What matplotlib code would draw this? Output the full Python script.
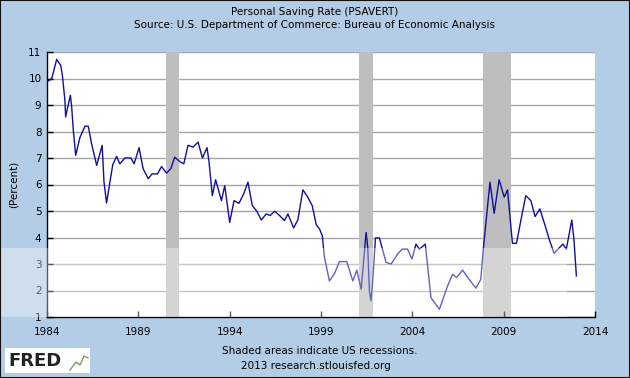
import numpy as np
import matplotlib
matplotlib.use('Agg')
import matplotlib.pyplot as plt
from matplotlib.patches import Rectangle

# personal saving rate (decimal year, percent)
dates = [1984.00, 1984.26, 1984.53, 1984.75, 1984.84, 1984.98, 1985.02, 1985.16, 1985.28, 1985.35,
         1985.44, 1985.57, 1985.80, 1986.08, 1986.26, 1986.44, 1986.72, 1987.02, 1987.12, 1987.26,
         1987.40, 1987.60, 1987.81, 1987.99, 1988.26, 1988.59, 1988.77, 1989.04, 1989.26, 1989.54,
         1989.75, 1990.05, 1990.27, 1990.54, 1990.78, 1990.99, 1991.30, 1991.49, 1991.72, 1992.00,
         1992.27, 1992.51, 1992.76, 1992.87, 1993.05, 1993.23, 1993.55, 1993.73, 1994.00, 1994.24,
         1994.51, 1994.77, 1995.00, 1995.24, 1995.49, 1995.73, 1996.00, 1996.22, 1996.46, 1996.73,
         1997.00, 1997.19, 1997.50, 1997.73, 1998.01, 1998.28, 1998.52, 1998.74, 1998.92, 1999.07,
         1999.19, 1999.46, 1999.74, 2000.01, 2000.41, 2000.74, 2000.96, 2001.20, 2001.47, 2001.56,
         2001.65, 2001.74, 2001.83, 2001.98, 2002.20, 2002.56, 2002.84, 2003.20, 2003.44, 2003.74,
         2003.98, 2004.20, 2004.38, 2004.71, 2005.02, 2005.48, 2005.93, 2006.20, 2006.42, 2006.75,
         2007.00, 2007.48, 2007.75, 2007.88, 2008.25, 2008.48, 2008.75, 2009.03, 2009.21, 2009.48,
         2009.70, 2009.94, 2010.21, 2010.49, 2010.72, 2010.98, 2011.27, 2011.49, 2011.76, 2012.03,
         2012.25, 2012.43, 2012.73, 2012.85, 2012.98]
rate = [9.87, 10.0, 10.72, 10.5, 10.13, 9.18, 8.55, 9.0, 9.37, 8.93,
        8.05, 7.1, 7.77, 8.2, 8.2, 7.54, 6.72, 7.48, 6.1, 5.3,
        5.9, 6.75, 7.06, 6.78, 7.0, 7.0, 6.78, 7.39, 6.6, 6.22,
        6.4, 6.4, 6.68, 6.43, 6.6, 7.03, 6.85, 6.78, 7.48, 7.41,
        7.6, 7.0, 7.39, 6.85, 5.58, 6.18, 5.39, 5.96, 4.57, 5.39,
        5.29, 5.65, 6.09, 5.2, 4.99, 4.66, 4.89, 4.83, 4.99, 4.83,
        4.64, 4.89, 4.36, 4.66, 5.8, 5.52, 5.2, 4.48, 4.32, 4.07,
        3.25, 2.36, 2.64, 3.09, 3.09, 2.36, 2.77, 2.05, 4.19, 3.62,
        1.98, 1.61, 2.36, 3.98, 3.98, 3.06, 3.0, 3.38, 3.56, 3.56,
        3.19, 3.75, 3.56, 3.75, 1.73, 1.29, 2.17, 2.61, 2.49, 2.77,
        2.52, 2.09, 2.43, 3.53, 6.09, 4.91, 6.18, 5.52, 5.8, 3.78,
        3.78, 4.64, 5.58, 5.39, 4.79, 5.08, 4.45, 3.94, 3.4, 3.6,
        3.75, 3.56, 4.66, 3.91, 2.55]

rec_start = [1990.5, 2001.1, 2007.88]
rec_end = [1991.2, 2001.85, 2009.42]

xticks = [1984, 1989, 1994, 1999, 2004, 2009, 2014]
yticks = list(range(1, 12))

bg = '#b4cde6'
fig = plt.figure(figsize=(6.3, 3.78), dpi=100, facecolor=bg)
ax = fig.add_axes([47/630, 1-317/378, 548/630, 265/378])
ax.set_facecolor('white')

for s, e in zip(rec_start, rec_end):
    ax.axvspan(s, e, color='#bebebe', lw=0, zorder=1)

for y in yticks:
    ax.axhline(y, color='#a6a6a6', lw=1, zorder=0.5)

ax.plot(dates, rate, color='#10109a', lw=1, zorder=3)

ax.set_xlim(1984, 2014)
ax.set_ylim(1, 11)
ax.set_xticks(xticks)
ax.set_yticks(yticks)
ax.tick_params(axis='both', direction='in', length=4, width=1, labelsize=7.5, colors='black')
ax.tick_params(axis='x', pad=7)
ax.tick_params(axis='y', pad=4)
for sp in ['top', 'right']:
    ax.spines[sp].set_visible(False)
for sp in ['left', 'bottom']:
    ax.spines[sp].set_color('black')
    ax.spines[sp].set_linewidth(1)
ax.set_ylabel('(Percent)', fontsize=7.5, labelpad=7)

fig.text(0.5, 1-12/378, 'Personal Saving Rate (PSAVERT)', ha='center', va='center', fontsize=7.5)
fig.text(0.5, 1-25/378, 'Source: U.S. Department of Commerce: Bureau of Economic Analysis',
         ha='center', va='center', fontsize=7.5)
fig.text(320/630, 1-351/378, 'Shaded areas indicate US recessions.', ha='center', va='center', fontsize=7.5)
fig.text(316/630, 1-366/378, '2013 research.stlouisfed.org', ha='center', va='center', fontsize=7.5)

# FRED logo box
fig.patches.append(Rectangle((5/630, 1-373/378), 85/630, 25/378, transform=fig.transFigure,
                             facecolor='white', edgecolor='none'))
fig.text(8/630, 1-361/378, 'FRED', ha='left', va='center', fontsize=13, fontweight='bold', color='#222222')
fig.add_artist(plt.Line2D([70/630, 76/630, 80/630, 84/630, 88/630],
                          [1-370/378, 1-362/378, 1-365/378, 1-356/378, 1-358/378],
                          transform=fig.transFigure, color='#7a9a6a', lw=1))

# pale band over the lower part (image watermark)
fig.patches.append(Rectangle((0, 1-317/378), 567/630, 69/378, transform=fig.transFigure,
                             facecolor='white', alpha=0.35, edgecolor='none', zorder=10))

# frame
fig.patches.append(Rectangle((0, 0), 1, 1, transform=fig.transFigure, fill=False,
                             edgecolor='#111111', lw=1.5, zorder=11))

fig.savefig('out.png', dpi=100, facecolor=bg)
